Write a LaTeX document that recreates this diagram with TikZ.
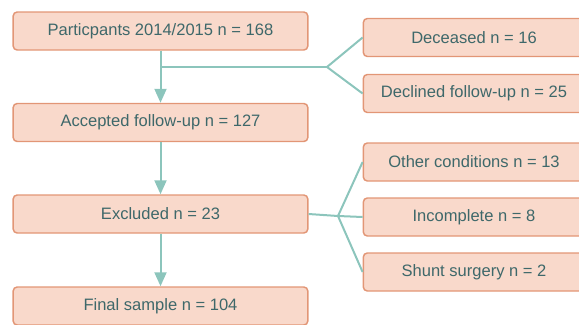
\documentclass[tikz,border=0pt]{standalone}
\usepackage{fontspec}
\setmainfont{Liberation Sans}
\usetikzlibrary{arrows.meta,positioning}
\definecolor{boxFill}{RGB}{249,217,203}
\definecolor{boxLine}{RGB}{226,150,118}
\definecolor{linkCol}{RGB}{140,197,188}
\definecolor{txtCol}{RGB}{62,104,106}
\tikzset{
  mainbox/.style={draw=boxLine, fill=boxFill, line width=1.1pt, rounded corners=3pt,
    minimum width=221pt, minimum height=28.5pt, text=txtCol, font=\fontsize{12.4}{14}\selectfont},
  sidebox/.style={mainbox, minimum width=166pt},
  link/.style={draw=linkCol, line width=1.5pt},
  flow/.style={link, -{Triangle[length=10.5pt,width=9pt]}},
}

\begin{document}
\begin{tikzpicture}[x=0.75pt, y=-0.75pt]
    \useasboundingbox (0,0) rectangle (579,325);
    % main column
    \node[mainbox] (start) at (160.5,31) {Particpants 2014/2015 n = 168};
    \node[mainbox] (accepted) at (160.5,122.5) {Accepted follow-up n = 127};
    \node[mainbox] (excluded) at (160.5,214) {Excluded n = 23};
    \node[mainbox] (final) at (160.5,306) {Final sample n = 104};
    % losses before follow-up
    \node[sidebox] (deceased) at (474,37.5) {Deceased n = 16};
    \node[sidebox] (declined) at (474,93.5) {Declined follow-up n = 25};
    % reasons for exclusion
    \node[sidebox] (other) at (474,162) {Other conditions n = 13};
    \node[sidebox] (incomplete) at (474,217) {Incomplete n = 8};
    \node[sidebox] (shunt) at (474,272) {Shunt surgery n = 2};
    % branch points
    \coordinate (split1) at (327,67);
    \coordinate (split2) at (338,216);
    % connectors
    \draw[flow] (start) -- (accepted);
    \draw[flow] (accepted) -- (excluded);
    \draw[flow] (excluded) -- (final);
    \draw[link] (start.south |- split1) -- (split1);
    \draw[link] (deceased.west) -- (split1) -- (declined.west);
    \draw[link] (excluded.east) -- (split2) -- (incomplete.west);
    \draw[link] (other.west) -- (split2) -- (shunt.west);
\end{tikzpicture}
\end{document}
